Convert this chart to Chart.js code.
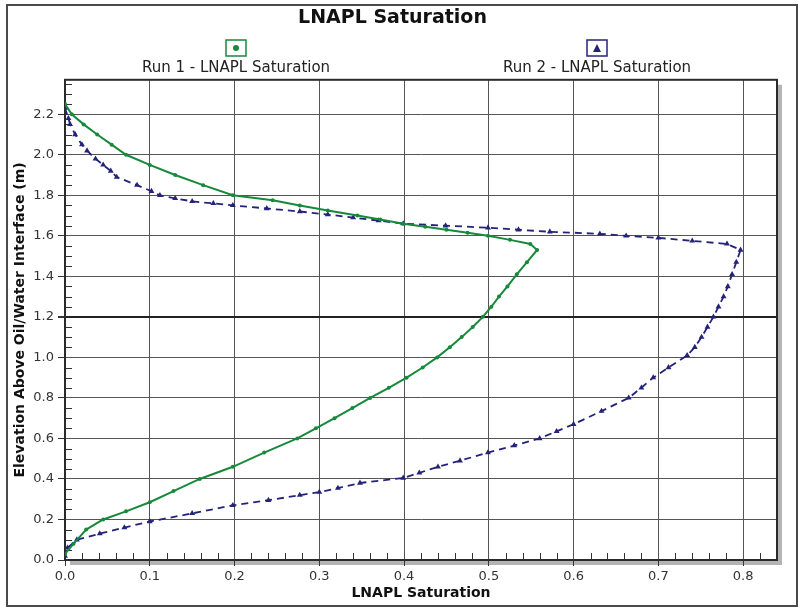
<!DOCTYPE html>
<html>
<head>
<meta charset="utf-8">
<script src="https://cdn.jsdelivr.net/npm/chart.js@4.4.1/dist/chart.umd.min.js"></script>
<style>
  html,body{margin:0;padding:0;background:#fff}
  #wrap{width:800px;height:608px;position:relative}
</style>
</head>
<body>
<div id="wrap"><canvas id="chart" width="800" height="608"></canvas></div>
<script>
// valeurs (saturation, élévation en m)
const run1Elev = [2.25, 2.20, 2.15, 2.10, 2.05, 2.00, 1.95, 1.90, 1.85, 1.80, 1.775, 1.75, 1.725, 1.70, 1.68, 1.66, 1.645, 1.63, 1.615, 1.60, 1.58, 1.56, 1.53,
  1.47, 1.41, 1.35, 1.30, 1.25, 1.20, 1.15, 1.10, 1.05, 1.00, 0.95, 0.90, 0.85, 0.80, 0.75, 0.70, 0.65, 0.60, 0.53, 0.46, 0.40, 0.34, 0.285, 0.24, 0.20, 0.15, 0.08, 0.03];
const run1Sat = [0.000, 0.008, 0.022, 0.038, 0.055, 0.072, 0.100, 0.130, 0.163, 0.198, 0.245, 0.277, 0.310, 0.345, 0.372, 0.399, 0.425, 0.450, 0.475, 0.499, 0.525, 0.549, 0.557,
  0.545, 0.533, 0.522, 0.512, 0.503, 0.493, 0.481, 0.468, 0.454, 0.439, 0.422, 0.403, 0.382, 0.360, 0.339, 0.318, 0.296, 0.274, 0.235, 0.198, 0.159, 0.128, 0.100, 0.072, 0.045, 0.025, 0.010, 0.000];

const run2Elev = [2.23, 2.18, 2.15, 2.10, 2.05, 2.02, 1.98, 1.95, 1.92, 1.89, 1.85, 1.82, 1.80, 1.785, 1.77, 1.76, 1.75, 1.735, 1.72, 1.705, 1.69, 1.675, 1.66, 1.65, 1.64, 1.63, 1.62, 1.61, 1.60, 1.59, 1.575, 1.56, 1.53,
  1.47, 1.41, 1.35, 1.30, 1.25, 1.20, 1.15, 1.10, 1.05, 1.01, 0.95, 0.90, 0.85, 0.80, 0.735, 0.67, 0.635, 0.60, 0.565, 0.53, 0.49, 0.46, 0.43, 0.405, 0.38, 0.355, 0.335, 0.32, 0.295, 0.27, 0.23, 0.19, 0.16, 0.13, 0.10, 0.06, 0.02];
const run2Sat = [0.000, 0.004, 0.006, 0.012, 0.020, 0.026, 0.036, 0.045, 0.054, 0.061, 0.085, 0.102, 0.112, 0.130, 0.150, 0.175, 0.198, 0.238, 0.277, 0.310, 0.340, 0.370, 0.399, 0.449, 0.499, 0.535, 0.572, 0.631, 0.662, 0.700, 0.740, 0.781, 0.797,
  0.792, 0.787, 0.782, 0.777, 0.771, 0.765, 0.758, 0.751, 0.743, 0.734, 0.712, 0.694, 0.680, 0.665, 0.633, 0.600, 0.580, 0.560, 0.530, 0.499, 0.466, 0.440, 0.418, 0.399, 0.348, 0.322, 0.300, 0.277, 0.240, 0.198, 0.150, 0.100, 0.070, 0.041, 0.014, 0.003, 0.000];

const seriesNames = ['Run 1 - LNAPL Saturation', 'Run 2 - LNAPL Saturation'];
const xTickStep = 0.1, yTickStep = 0.2;
const xMax = 0.84, yMax = 2.37;

const GREEN = '#17893b', NAVY = '#24237a';
const FONT = "'DejaVu Sans', Verdana, sans-serif";
Chart.defaults.font.family = FONT;

const toPoints = (xs, ys) => xs.map((x, i) => ({x: x, y: ys[i]}));

// garder seulement les multiples du pas
const keepSteps = step => scale => {
  scale.ticks = scale.ticks.filter(t => Math.abs(t.value/step - Math.round(t.value/step)) < 1e-6);
};

// cadre, ombre, graduations mineures
const framePlugin = {
  id: 'frame',
  beforeDraw(chart){
    const {ctx, chartArea: a} = chart;
    ctx.save();
    ctx.fillStyle = '#fff';
    ctx.fillRect(0, 0, chart.width, chart.height);
    ctx.strokeStyle = '#4a4a4a';
    ctx.lineWidth = 2;
    ctx.strokeRect(7, 5, 790, 601);
    ctx.fillStyle = '#b4b4b4';
    ctx.fillRect(a.left + 5, a.top + 5, a.right - a.left, a.bottom - a.top);
    ctx.fillStyle = '#fff';
    ctx.fillRect(a.left, a.top, a.right - a.left, a.bottom - a.top);
    ctx.restore();
  },
  beforeDatasetsDraw(chart){
    const {ctx, chartArea: a, scales} = chart;
    ctx.save();
    ctx.strokeStyle = '#333';
    ctx.lineWidth = 1;
    ctx.beginPath();
    for (let i = 0; i * 0.05 <= yMax; i++){
      if (i % 4 === 0) continue;
      const py = Math.round(scales.y.getPixelForValue(i * 0.05)) + 0.5;
      ctx.moveTo(a.left, py); ctx.lineTo(a.left + 7, py);
    }
    for (let i = 0; i * 0.02 <= xMax; i++){
      if (i % 5 === 0) continue;
      const px = Math.round(scales.x.getPixelForValue(i * 0.02)) + 0.5;
      ctx.moveTo(px, a.bottom); ctx.lineTo(px, a.bottom - 7);
    }
    ctx.stroke();
    ctx.strokeStyle = '#2a2a2a';
    ctx.lineWidth = 2;
    ctx.strokeRect(a.left, a.top, a.right - a.left, a.bottom - a.top);
    ctx.restore();
  },
  afterDraw(chart){
    // légende : icône encadrée au-dessus du libellé
    const ctx = chart.ctx;
    const items = [
      {cx: 236, color: GREEN, marker: 'circle', text: seriesNames[0]},
      {cx: 597, color: NAVY, marker: 'triangle', text: seriesNames[1]}
    ];
    ctx.save();
    items.forEach(it => {
      ctx.fillStyle = '#fff';
      ctx.fillRect(it.cx - 10, 40, 20, 16);
      ctx.strokeStyle = it.color;
      ctx.lineWidth = 1.5;
      ctx.strokeRect(it.cx - 10, 40, 20, 16);
      ctx.fillStyle = it.color;
      ctx.beginPath();
      if (it.marker === 'circle'){
        ctx.arc(it.cx, 48, 3, 0, Math.PI * 2);
      } else {
        ctx.moveTo(it.cx, 44); ctx.lineTo(it.cx + 4, 52); ctx.lineTo(it.cx - 4, 52); ctx.closePath();
      }
      ctx.fill();
      ctx.fillStyle = '#222';
      ctx.font = '15px ' + FONT;
      ctx.textAlign = 'center';
      ctx.textBaseline = 'middle';
      ctx.fillText(it.text, it.cx, 68);
    });
    ctx.restore();
  }
};

new Chart(document.getElementById('chart'), {
  type: 'scatter',
  data: {
    datasets: [
      {
        label: seriesNames[0],
        data: toPoints(run1Sat, run1Elev),
        showLine: true,
        borderColor: GREEN,
        backgroundColor: GREEN,
        borderWidth: 2,
        pointStyle: 'circle',
        pointRadius: 2,
        pointBorderWidth: 0
      },
      {
        label: seriesNames[1],
        data: toPoints(run2Sat, run2Elev),
        showLine: true,
        borderColor: NAVY,
        backgroundColor: NAVY,
        borderWidth: 1.8,
        borderDash: [7, 5],
        pointStyle: 'triangle',
        pointRadius: 3.4,
        pointBorderWidth: 0
      }
    ]
  },
  options: {
    responsive: false,
    animation: false,
    devicePixelRatio: 1,
    layout: { padding: { left: 8, right: 23, top: 0, bottom: 6 } },
    plugins: {
      legend: { display: false },
      tooltip: { enabled: false },
      title: {
        display: true,
        text: 'LNAPL Saturation',
        color: '#111',
        font: { size: 19, weight: 'bold' },
        padding: { top: 7, bottom: 50 }
      }
    },
    scales: {
      x: {
        type: 'linear',
        position: 'bottom',
        min: 0,
        max: xMax,
        afterBuildTicks: keepSteps(xTickStep),
        afterFit: s => { s.height = 42; },
        ticks: { stepSize: xTickStep, includeBounds: false, color: '#333', font: { size: 13 }, padding: 3, maxRotation: 0,
                 callback: v => v.toFixed(1) },
        grid: { color: '#555', lineWidth: 1, tickLength: 6, tickColor: '#333' },
        border: { color: '#2a2a2a', width: 2 },
        title: { display: true, text: 'LNAPL Saturation', color: '#111',
                 font: { size: 14, weight: 'bold' }, padding: { top: 0, bottom: 0 } }
      },
      y: {
        type: 'linear',
        min: 0,
        max: yMax,
        afterBuildTicks: keepSteps(yTickStep),
        afterFit: s => { s.width = 57; },
        ticks: { stepSize: yTickStep, includeBounds: false, color: '#333', font: { size: 13 }, padding: 4,
                 callback: v => v.toFixed(1) },
        grid: {
          color: c => (c.tick && Math.abs(c.tick.value - 1.2) < 1e-6) ? '#222' : '#555',
          lineWidth: c => (c.tick && Math.abs(c.tick.value - 1.2) < 1e-6) ? 2 : 1,
          tickLength: 7, tickColor: '#333'
        },
        border: { color: '#2a2a2a', width: 2 },
        title: { display: true, text: 'Elevation Above Oil/Water Interface (m)', color: '#111',
                 font: { size: 14, weight: 'bold' }, padding: { top: 4, bottom: 0 } }
      }
    }
  },
  plugins: [framePlugin]
});
</script>
</body>
</html>
